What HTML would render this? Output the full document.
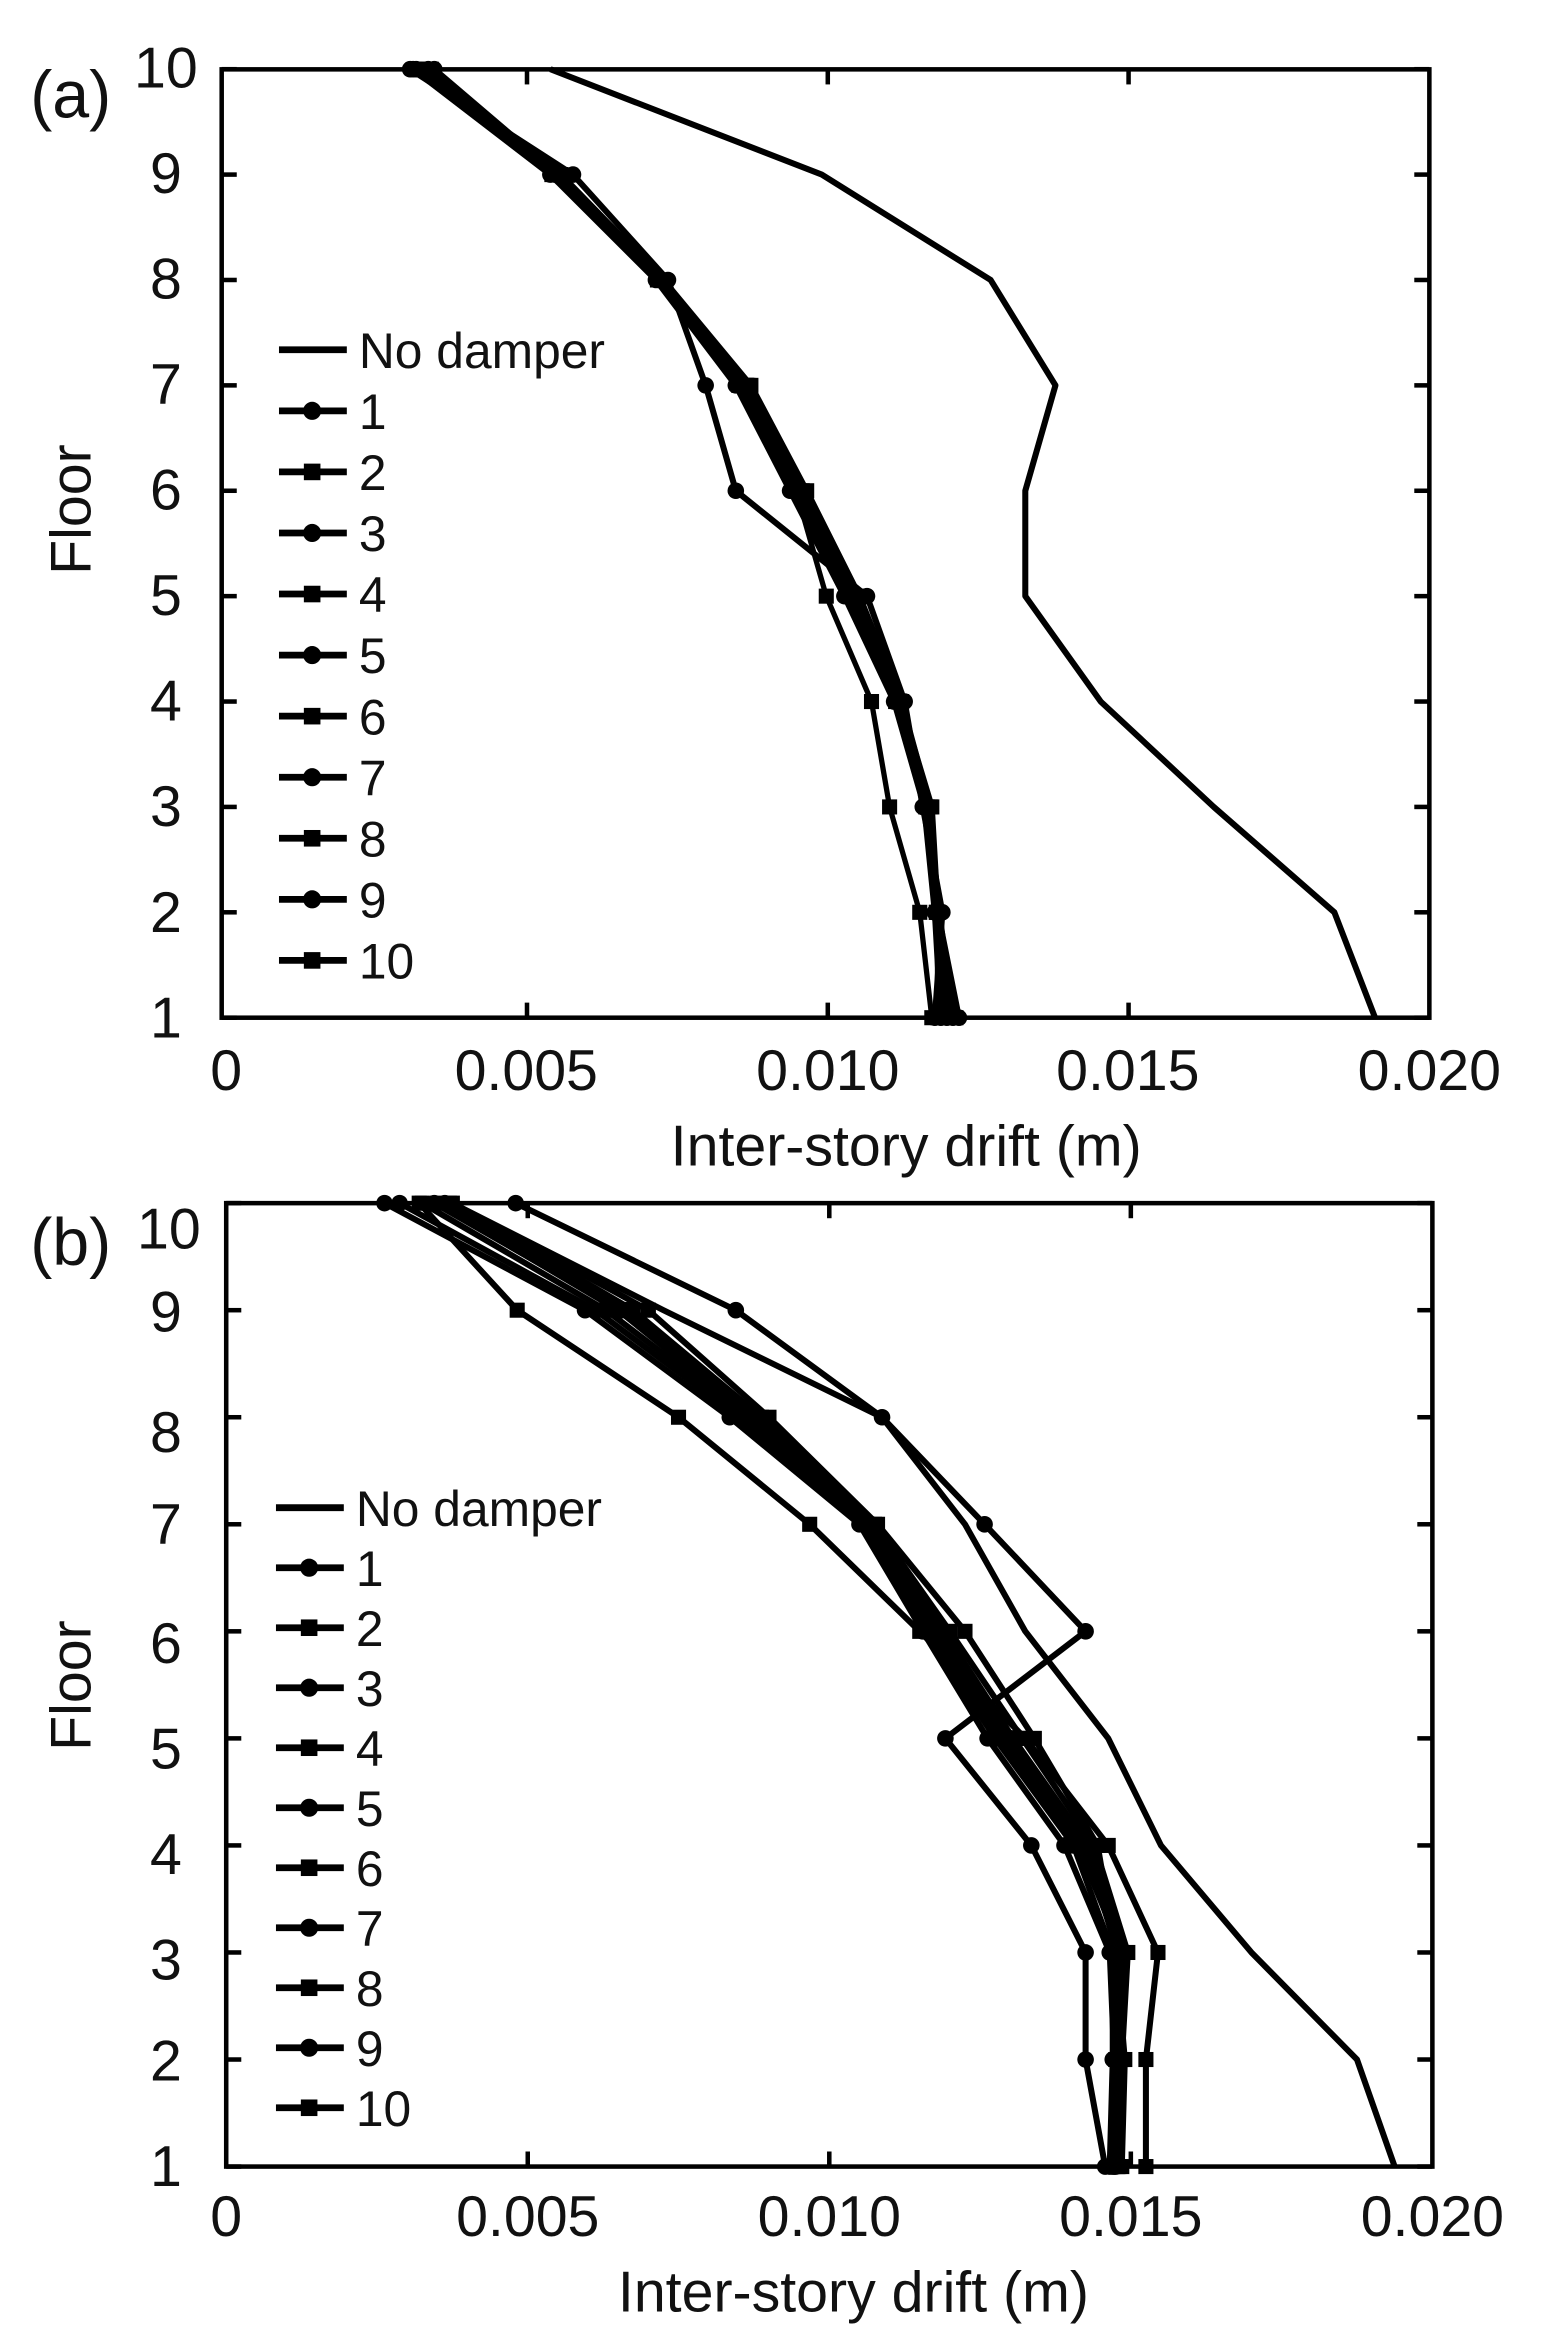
<!DOCTYPE html>
<html><head><meta charset="utf-8"><style>
html,body{margin:0;padding:0;background:#fff}
svg{display:block}
text{font-family:"Liberation Sans",Arial,sans-serif;fill:#111}
</style></head><body>
<svg id="s" width="1544" height="2349" viewBox="0 0 1024 1558" xmlns="http://www.w3.org/2000/svg">
<rect width="1024" height="1558" fill="#fff"/>
<g id="g"></g>
<rect x="147" y="46" width="801" height="629" fill="none" stroke="#000" stroke-width="3"/>
<text x="20" y="78" font-size="44">(a)</text>
<g font-size="38" text-anchor="middle">
<text x="110" y="58">10</text><text x="110" y="128">9</text><text x="110" y="198">8</text><text x="110" y="268">7</text><text x="110" y="338">6</text><text x="110" y="408">5</text><text x="110" y="478">4</text><text x="110" y="548">3</text><text x="110" y="618">2</text><text x="110" y="688">1</text>
</g>
<g font-size="38" text-anchor="middle">
<text x="150" y="723">0</text><text x="349" y="723">0.005</text><text x="549" y="723">0.010</text><text x="748" y="723">0.015</text><text x="948" y="723">0.020</text>
<text x="601" y="773">Inter-story drift (m)</text>
</g>
<text transform="translate(60,338) rotate(-90)" font-size="38" text-anchor="middle">Floor</text>
<rect x="150" y="798" width="800" height="639" fill="none" stroke="#000" stroke-width="3"/>
<text x="20" y="839" font-size="44">(b)</text>
<g font-size="38" text-anchor="middle">
<text x="112" y="828">10</text><text x="110" y="883">9</text><text x="110" y="963">8</text><text x="110" y="1024">7</text><text x="110" y="1103">6</text><text x="110" y="1173">5</text><text x="110" y="1243">4</text><text x="110" y="1313">3</text><text x="110" y="1380">2</text><text x="110" y="1450">1</text>
</g>
<g font-size="38" text-anchor="middle">
<text x="150" y="1483">0</text><text x="350" y="1483">0.005</text><text x="550" y="1483">0.010</text><text x="750" y="1483">0.015</text><text x="950" y="1483">0.020</text>
<text x="566" y="1533">Inter-story drift (m)</text>
</g>
<text transform="translate(60,1118) rotate(-90)" font-size="38" text-anchor="middle">Floor</text>
</svg>
<script>
var g=document.getElementById('g'),NS='http://www.w3.org/2000/svg';
function el(n,a){var e=document.createElementNS(NS,n);for(var k in a)e.setAttribute(k,a[k]);g.appendChild(e);return e;}
function tk(x1,y1,x2,y2){el('line',{x1:x1,y1:y1,x2:x2,y2:y2,stroke:'#000','stroke-width':3});}
for(var i=0;i<10;i++){var y=675-i*69.9;tk(147,y,157,y);tk(938,y,948,y);
var y2=1437-i*71;tk(150,y2,160,y2);tk(940,y2,950,y2);}
for(var j=1;j<4;j++){var x=150+j*199.5;tk(x,675,x,665);tk(x,46,x,56);var xb=150+j*200;tk(xb,1437,xb,1427);tk(xb,798,xb,808);}
function series(xs,y0,step,w,mk){var pts=xs.map(function(x,i){return [x,y0-i*step];});
el('polyline',{points:pts.map(function(p){return p.join(',')}).join(' '),fill:'none',stroke:'#000','stroke-width':w,'stroke-linejoin':'round'});
if(mk)pts.forEach(function(p){if(mk=='c')el('circle',{cx:p[0],cy:p[1],r:5.5,fill:'#000'});else el('rect',{x:p[0]-5,y:p[1]-5,width:10,height:10,fill:'#000'});});}
var ya=675,sa=69.9;
series([912,885,805,730,680,680,700,657,545,365],ya,sa,4);
series([620,625,612,600,575,488,468,443,380,272],ya,sa,4,'c');
series([618,610,590,578,548,528,495,438,368,283],ya,sa,3.5,'s');
var A=[[622,622,617,598,570,535,498,440,372,278],[624,620,615,596,566,530,492,438,368,276],[626,621,614,594,563,527,490,436,366,275],[628,620,613,593,560,524,488,435,365,274],[630,622,618,597,568,532,496,440,372,282],[632,623,616,595,565,528,493,438,370,288],[634,621,615,596,567,530,495,439,371,286],[636,622,614,594,564,526,491,437,369,284]];
A.forEach(function(x,i){series(x,ya,sa,4,i%2?'c':'s');});
var yb=1437,sb=71;
series([925,900,830,770,735,680,640,585,440,300],yb,sb,4);
series([733,720,720,684,627,720,653,585,488,342],yb,sb,4,'c');
series([760,760,768,735,680,610,537,450,343,278],yb,sb,4,'s');
var B=[[738,740,742,718,668,622,575,498,410,290],[740,742,745,722,672,626,578,502,415,295],[742,744,748,726,678,630,580,505,420,298],[736,738,738,712,660,614,572,490,395,265],[744,746,740,728,686,640,582,510,430,300],[738,739,736,706,655,612,570,484,388,255],[741,741,744,715,664,618,573,495,402,280],[739,743,741,720,670,624,576,500,412,288]];
B.forEach(function(x,i){series(x,yb,sb,4,i%2?'c':'s');});
function legend(x,y,dy,labs){labs.forEach(function(t,i){var yy=y+i*dy;el('line',{x1:x,y1:yy,x2:x+45,y2:yy,stroke:'#000','stroke-width':4.5});
if(i>0){if(i%2)el('circle',{cx:x+22,cy:yy,r:6,fill:'#000'});else el('rect',{x:x+16.5,y:yy-5.5,width:11,height:11,fill:'#000'});}
var tx=el('text',{x:x+53,y:yy+12,'font-size':33});tx.textContent=t;});}
var L=['No damper','1','2','3','4','5','6','7','8','9','10'];
legend(185,232,40.5,L);
legend(183,1000,39.8,L);
</script>
</body></html>
